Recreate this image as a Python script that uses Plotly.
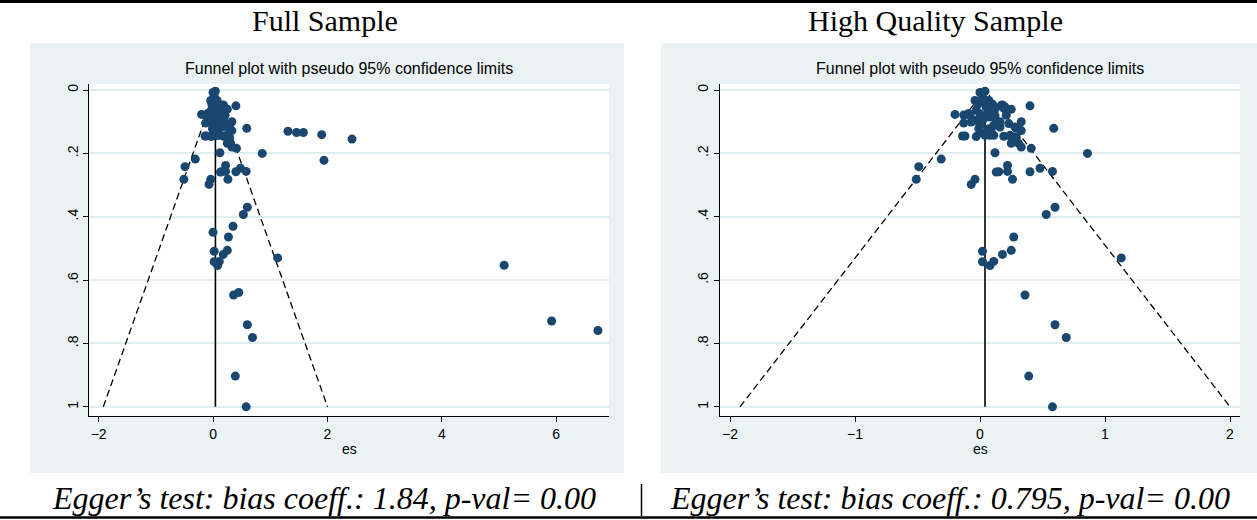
import plotly.graph_objects as go

W, H = 1257, 520

# High quality sample: effect size (es) and its standard error (se)
hq_es = [0.00, 0.04, 0.02, -0.04, -0.02, 0.01, 0.07, 0.05, 0.10, -0.03,
         0.00, -0.01, -0.04, 0.00, 0.03, 0.07, 0.08, 0.12, 0.13, 0.16,
         0.17, 0.19, 0.12, 0.25, 0.21, 0.23, 0.28, 0.16, 0.11, 0.07,
         0.09, 0.01, 0.08, 0.04, -0.01, -0.08, -0.07, 0.11, 0.19, 0.24,
         0.27, 0.31, 0.33, 0.33, 0.29, 0.33, 0.29, 0.25, 0.40, 0.18,
         0.20, -0.20, -0.13, -0.09, -0.13, -0.14, -0.12, -0.03, 0.59, 0.25,
         0.41, 0.12, 0.86, -0.31, -0.49, -0.51, -0.04, -0.07, 0.22, 0.13,
         0.15, 0.22, 0.40, 0.48, 0.58, 0.26, 0.60, 0.53, 0.27, 0.02,
         0.02, 0.08, 0.11, 0.18, 0.25, 1.13, 0.36, 0.60, 0.69, 0.39,
         0.58]
hq_se = [0.008, 0.004, 0.020, 0.033, 0.046, 0.038, 0.033, 0.054, 0.045, 0.064,
         0.075, 0.091, 0.096, 0.112, 0.091, 0.070, 0.085, 0.080, 0.096, 0.100,
         0.048, 0.057, 0.060, 0.061, 0.080, 0.106, 0.117, 0.117, 0.112, 0.122,
         0.133, 0.133, 0.143, 0.143, 0.122, 0.080, 0.101, 0.143, 0.146, 0.143,
         0.148, 0.169, 0.180, 0.128, 0.121, 0.100, 0.150, 0.150, 0.050, 0.047,
         0.053, 0.077, 0.079, 0.074, 0.104, 0.145, 0.145, 0.147, 0.121, 0.168,
         0.184, 0.198, 0.200, 0.218, 0.242, 0.282, 0.282, 0.298, 0.238, 0.259,
         0.258, 0.257, 0.258, 0.247, 0.257, 0.282, 0.370, 0.393, 0.464, 0.509,
         0.542, 0.554, 0.541, 0.519, 0.506, 0.530, 0.647, 0.741, 0.781, 0.903,
         1.000]

# Studies that enter the full sample only
extra_es = [0.35, 0.00, 0.45, 1.31, 1.46, 1.58, 1.90, 2.43, 1.94, 5.09, 5.92, 6.73]
extra_se = [0.430, 0.449, 0.639, 0.130, 0.134, 0.134, 0.141, 0.155, 0.222, 0.553, 0.729, 0.759]

full_es = hq_es + extra_es
full_se = hq_se + extra_se

# Pooled effect and largest standard error for the pseudo 95% limits
pooled_full = 0.042
pooled_hq = 0.040
se_max = 1.0

y_ticks = [0, 0.2, 0.4, 0.6, 0.8, 1.0]
y_ticktext = ["0", ".2", ".4", ".6", ".8", "1"]
x_ticks_full = [-2, 0, 2, 4, 6]
x_ticks_hq = [-2, -1, 0, 1, 2]

titles = ["Full Sample", "High Quality Sample"]
egger = ["Egger\u2019s test: bias coeff.: 1.84, p-val= 0.00",
         "Egger\u2019s test: bias coeff.: 0.795, p-val= 0.00"]
subtitle = "Funnel plot with pseudo 95% confidence limits"

NAVY = "#1a476f"
BG = "#eaf2f3"
GRID = "#e3ecef"
SANS = "Liberation Sans, Arial, sans-serif"
SERIF = "Liberation Serif, Times New Roman, serif"


def fx(p):
    return p / W


def fy(p):
    return 1 - p / H


fig = go.Figure()


def add_panel(es, se, pooled, xa, ya):
    lo = pooled - 1.96 * se_max
    hi = pooled + 1.96 * se_max
    fig.add_trace(go.Scatter(x=[lo, pooled, hi], y=[se_max, 0, se_max], mode="lines",
                             line=dict(color="black", width=1.3, dash="7px,4px"),
                             xaxis=xa, yaxis=ya, hoverinfo="skip", showlegend=False))
    fig.add_trace(go.Scatter(x=[pooled, pooled], y=[0, se_max], mode="lines",
                             line=dict(color="black", width=1.6),
                             xaxis=xa, yaxis=ya, hoverinfo="skip", showlegend=False))
    fig.add_trace(go.Scatter(x=es, y=se, mode="markers",
                             marker=dict(color=NAVY, size=9, line=dict(width=0)),
                             xaxis=xa, yaxis=ya, showlegend=False))


add_panel(full_es, full_se, pooled_full, "x", "y")
add_panel(hq_es, hq_se, pooled_hq, "x2", "y2")

plot_top, plot_bot = 84, 415.7
panels = [
    dict(x0=89.3, x1=609, rng=[-2.163, 6.923], ticks=x_ticks_full, bg=(30, 624)),
    dict(x0=720, x1=1240, rng=[-2.08, 2.08], ticks=x_ticks_hq, bg=(661, 1257)),
]

common_x = dict(showline=True, linecolor="black", linewidth=1.3, ticks="outside",
                ticklen=5, tickwidth=1.2, tickcolor="black", showgrid=False,
                zeroline=False, tickfont=dict(family=SANS, size=14, color="black"))
common_y = dict(showline=True, linecolor="black", linewidth=1.3, ticks="outside",
                ticklen=5, tickwidth=1.2, tickcolor="black", showgrid=True,
                gridcolor=GRID, gridwidth=1.5, zeroline=False,
                range=[1.028, -0.019], tickvals=y_ticks, ticktext=y_ticktext,
                tickangle=-90, tickfont=dict(family=SANS, size=14, color="black"))

shapes = []
annotations = []
for i, p in enumerate(panels):
    sfx = "" if i == 0 else str(i + 1)
    fig.layout["xaxis" + sfx] = dict(common_x, domain=[fx(p["x0"]), fx(p["x1"])],
                                     range=p["rng"], tickvals=p["ticks"],
                                     anchor="y" + sfx)
    fig.layout["yaxis" + sfx] = dict(common_y, domain=[fy(plot_bot), fy(plot_top)],
                                     anchor="x" + sfx)
    # graph region and plot region backgrounds
    shapes.append(dict(type="rect", xref="paper", yref="paper", layer="below",
                       x0=fx(p["bg"][0]), x1=fx(p["bg"][1]), y0=fy(473), y1=fy(43),
                       fillcolor=BG, line=dict(width=0)))
    shapes.append(dict(type="rect", xref="paper", yref="paper", layer="below",
                       x0=fx(p["x0"]), x1=fx(p["x1"]), y0=fy(plot_bot), y1=fy(plot_top),
                       fillcolor="white", line=dict(width=0)))
    cx = (p["x0"] + p["x1"]) / 2
    annotations.append(dict(text=subtitle, x=fx(cx), y=fy(69), xref="paper", yref="paper",
                            showarrow=False, xanchor="center", yanchor="middle",
                            font=dict(family=SANS, size=16, color="black")))
    annotations.append(dict(text="es", x=fx(cx), y=fy(449), xref="paper", yref="paper",
                            showarrow=False, xanchor="center", yanchor="middle",
                            font=dict(family=SANS, size=14, color="black")))

title_x = [325, 935]
egger_x = [324, 950]
for i in range(2):
    annotations.append(dict(text=titles[i], x=fx(title_x[i]), y=fy(21), xref="paper",
                            yref="paper", showarrow=False, xanchor="center", yanchor="middle",
                            font=dict(family=SERIF, size=30, color="black")))
    annotations.append(dict(text="<i>" + egger[i] + "</i>", x=fx(egger_x[i]), y=fy(498),
                            xref="paper", yref="paper", showarrow=False, xanchor="center",
                            yanchor="middle", font=dict(family=SERIF, size=32, color="black")))

# rules framing the figure
shapes.append(dict(type="line", xref="paper", yref="paper", x0=0, x1=1, y0=fy(1.5), y1=fy(1.5),
                   line=dict(color="black", width=3)))
shapes.append(dict(type="line", xref="paper", yref="paper", x0=0, x1=1, y0=fy(517.5), y1=fy(517.5),
                   line=dict(color="black", width=2.5)))
shapes.append(dict(type="line", xref="paper", yref="paper", x0=fx(641.5), x1=fx(641.5),
                   y0=fy(484), y1=fy(516), line=dict(color="black", width=1.5)))

fig.update_layout(width=W, height=H, margin=dict(l=0, r=0, t=0, b=0),
                  paper_bgcolor="white", plot_bgcolor="rgba(0,0,0,0)",
                  shapes=shapes, annotations=annotations, showlegend=False)

fig.write_html("out.html", config={"displayModeBar": False})
